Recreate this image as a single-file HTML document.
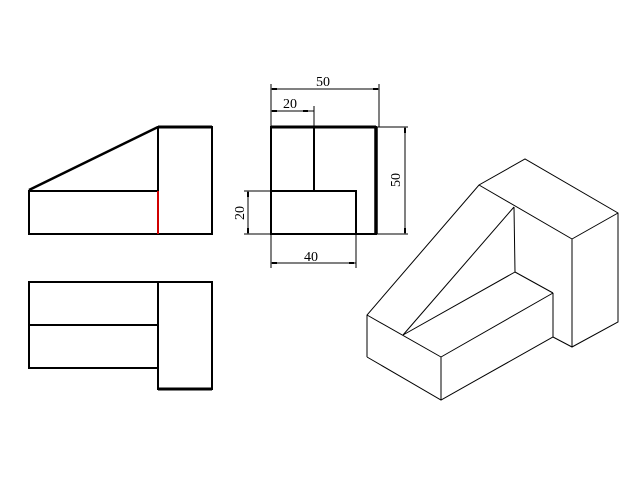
<!DOCTYPE html>
<html><head><meta charset="utf-8"><style>
html,body{margin:0;padding:0;background:#fff;width:640px;height:480px;overflow:hidden}
svg{display:block}
text{font-family:"Liberation Serif",serif;font-size:14px;fill:#000}
</style></head><body>
<svg width="640" height="480" viewBox="0 0 640 480" xmlns="http://www.w3.org/2000/svg">
<g fill="none" stroke="#000" stroke-width="2">
<line x1="29" y1="190" x2="158" y2="127" stroke-width="2.5"/>
<rect x="158" y="127" width="54" height="107"/>
<rect x="29" y="191" width="129" height="43"/>
<line x1="158" y1="127" x2="212" y2="127" stroke-width="3"/>
<rect x="29" y="282" width="129" height="86"/>
<line x1="29" y1="325" x2="158" y2="325"/>
<rect x="158" y="282" width="54" height="107"/>
<line x1="158" y1="389" x2="212" y2="389" stroke-width="3"/>
<rect x="271" y="127" width="105" height="107"/>
<line x1="376" y1="127" x2="376" y2="234" stroke-width="3.5"/>
<line x1="271" y1="127" x2="376" y2="127" stroke-width="3"/>
<line x1="314" y1="127" x2="314" y2="191"/>
<rect x="271" y="191" width="85" height="43"/>
</g>
<line x1="158" y1="191" x2="158" y2="234" stroke="#d00000" stroke-width="2"/>
<g stroke="#000" stroke-width="1" fill="none">
<line x1="271" y1="84" x2="271" y2="127"/>
<line x1="379" y1="84" x2="379" y2="127"/>
<line x1="271" y1="89" x2="379" y2="89"/>
<line x1="314" y1="106" x2="314" y2="127"/>
<line x1="271" y1="111" x2="314" y2="111"/>
<line x1="376" y1="127" x2="408" y2="127"/>
<line x1="376" y1="234" x2="408" y2="234"/>
<line x1="405" y1="127" x2="405" y2="234"/>
<line x1="244" y1="191" x2="271" y2="191"/>
<line x1="244" y1="234" x2="271" y2="234"/>
<line x1="248" y1="191" x2="248" y2="234"/>
<line x1="271" y1="234" x2="271" y2="268"/>
<line x1="356" y1="234" x2="356" y2="268"/>
<line x1="271" y1="263" x2="356" y2="263"/>
</g>
<g fill="#000">
<rect x="272" y="88" width="5" height="2"/><rect x="373" y="88" width="5" height="2"/>
<rect x="272" y="110" width="5" height="2"/><rect x="303" y="110" width="5" height="2"/>
<rect x="404" y="128" width="2" height="5"/><rect x="404" y="228" width="2" height="5"/>
<rect x="247" y="192" width="2" height="5"/><rect x="247" y="228" width="2" height="5"/>
<rect x="272" y="262" width="5" height="2"/><rect x="349" y="262" width="5" height="2"/>
</g>
<text x="316" y="86">50</text>
<text x="283" y="108">20</text>
<text x="304" y="261">40</text>
<text transform="translate(400,180) rotate(-90)" text-anchor="middle">50</text>
<text transform="translate(244,213) rotate(-90)" text-anchor="middle">20</text>
<g fill="none" stroke="#000" stroke-width="1">
<polyline points="367,357 367,315 479,185 525,159 618,213 618,322 572,347 553,337 441,400 367,357"/>
<line x1="367" y1="315" x2="441" y2="357"/>
<line x1="441" y1="357" x2="441" y2="400"/>
<line x1="441" y1="357" x2="553" y2="293"/>
<line x1="553" y1="293" x2="553" y2="337"/>
<line x1="553" y1="293" x2="515" y2="272"/>
<line x1="403" y1="335" x2="515" y2="272"/>
<line x1="403" y1="335" x2="514" y2="207"/>
<line x1="514" y1="207" x2="515" y2="272"/>
<line x1="479" y1="185" x2="572" y2="239"/>
<line x1="572" y1="239" x2="618" y2="213"/>
<line x1="572" y1="239" x2="572" y2="347"/>
</g>
</svg>
</body></html>
